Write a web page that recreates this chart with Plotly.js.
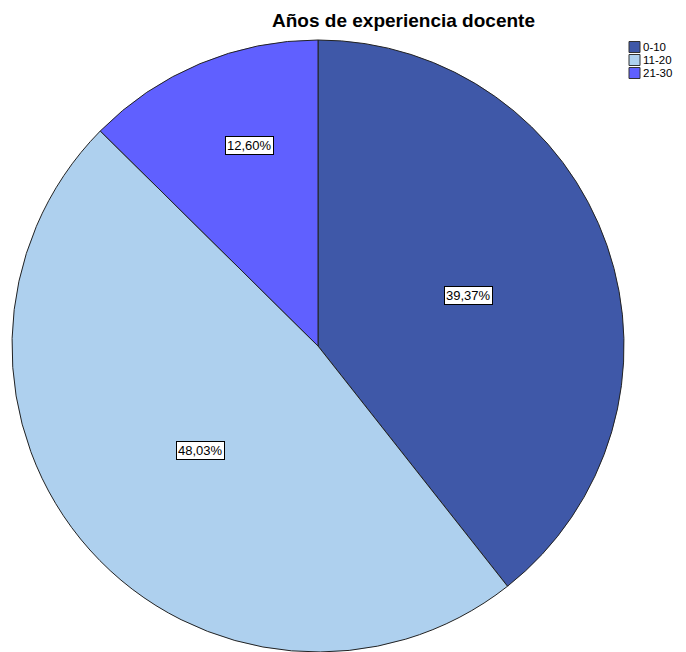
<!DOCTYPE html>
<html>
<head>
<meta charset="utf-8">
<script src="https://cdn.plot.ly/plotly-3.0.1.min.js"></script>
<style>html,body{margin:0;padding:0;background:#fff;overflow:hidden;}#chart{width:686px;height:652px;}</style>
</head>
<body>
<div id="chart"></div>
<script>
// Data
const categories = ['0-10', '11-20', '21-30'];
const percentages = [39.37, 48.03, 12.60];
const chartTitle = 'Años de experiencia docente';

// Styles
const sliceColors = ['#3F58A8', '#AED0EE', '#6060FF'];
const labelRadiusFractions = [0.518, 0.514, 0.691];
const labelAngleNudgeDeg = [0.7, 0.4, 3.9];
const FONT = 'Liberation Sans, Arial, sans-serif';

const W = 686, H = 652;
const pieLeft = 12, pieRight = 624, pieTop = 40, pieBottom = 652;
const domX = [pieLeft / W, pieRight / W];
const domY = [1 - pieBottom / H, 1 - pieTop / H];
const R = Math.min(pieRight - pieLeft, pieBottom - pieTop) / 2;
const cx = (pieLeft + pieRight) / 2;
const cy = (pieTop + pieBottom) / 2;

// value labels positioned from slice mid angles (clockwise from 12 o'clock)
const total = percentages.reduce((a, b) => a + b, 0);
let cum = 0;
const annotations = percentages.map((v, i) => {
  const mid = (cum + v / 2) / total * 2 * Math.PI + labelAngleNudgeDeg[i] * Math.PI / 180;
  cum += v;
  const r = R * labelRadiusFractions[i];
  const px = cx + r * Math.sin(mid);
  const py = cy - r * Math.cos(mid);
  return {
    xref: 'paper', yref: 'paper',
    x: px / W, y: 1 - py / H,
    xanchor: 'center', yanchor: 'middle',
    text: v.toFixed(2).replace('.', ',') + '%',
    showarrow: false,
    bgcolor: '#ffffff',
    bordercolor: '#000000',
    borderwidth: 1,
    borderpad: 1,
    font: {family: FONT, size: 13, color: '#000'}
  };
});

// compact legend (SPSS style) built from categories and colours
const legX = 629, legBox = 11, legRow0 = 47, legStep = 13, legTextX = 642;
const shapes = [];
categories.forEach((c, i) => {
  const yc = legRow0 + i * legStep;
  shapes.push({
    type: 'rect', xref: 'paper', yref: 'paper',
    x0: legX / W, x1: (legX + legBox) / W,
    y0: 1 - (yc + legBox / 2) / H, y1: 1 - (yc - legBox / 2) / H,
    fillcolor: sliceColors[i],
    line: {color: '#333333', width: 1}
  });
  annotations.push({
    xref: 'paper', yref: 'paper',
    x: legTextX / W, y: 1 - yc / H,
    xanchor: 'left', yanchor: 'middle',
    text: c, showarrow: false,
    borderpad: 0,
    font: {family: FONT, size: 11.5, color: '#000'}
  });
});

const trace = {
  type: 'pie',
  labels: categories,
  values: percentages,
  sort: false,
  direction: 'clockwise',
  rotation: 0,
  textinfo: 'none',
  hoverinfo: 'none',
  showlegend: false,
  marker: {colors: sliceColors, line: {color: '#222222', width: 1}},
  domain: {x: domX, y: domY}
};

const layout = {
  width: W, height: H,
  margin: {l: 0, r: 0, t: 0, b: 0, autoexpand: false},
  paper_bgcolor: '#ffffff',
  title: {
    text: '<b>' + chartTitle + '</b>',
    font: {family: FONT, size: 19, color: '#000'},
    x: 403.5 / W, xanchor: 'center',
    y: 1 - 20 / H, yanchor: 'middle'
  },
  showlegend: false,
  shapes: shapes,
  annotations: annotations
};

Plotly.newPlot('chart', [trace], layout, {displayModeBar: false, staticPlot: true});
</script>
</body>
</html>
